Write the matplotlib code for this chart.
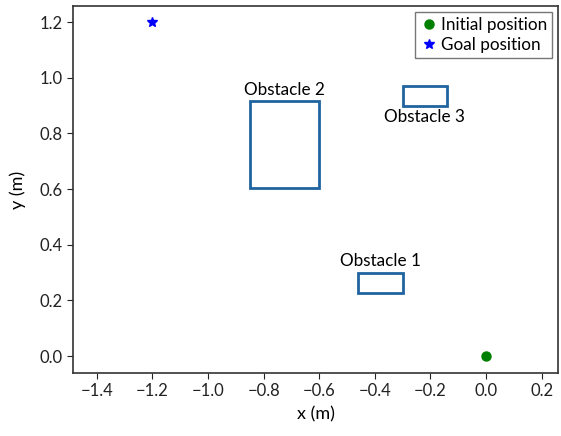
import matplotlib.pyplot as plt
from matplotlib.patches import Rectangle

plt.rcParams["font.family"] = ["Lato", "DejaVu Sans"]

# Start and goal (m)
start_xy = (0.0, 0.0)
goal_xy = (-1.2, 1.2)

# Obstacles: name, lower-left corner, width, height (m)
obstacle_names = ["Obstacle 1", "Obstacle 2", "Obstacle 3"]
obstacle_corners = [(-0.46, 0.225), (-0.85, 0.605), (-0.30, 0.90)]
obstacle_widths = [0.16, 0.25, 0.16]
obstacle_heights = [0.075, 0.31, 0.07]
label_above = [True, True, False]

xticks = [-1.4, -1.2, -1.0, -0.8, -0.6, -0.4, -0.2, 0.0, 0.2]
yticks = [0.0, 0.2, 0.4, 0.6, 0.8, 1.0, 1.2]

fig = plt.figure(figsize=(5.61, 4.36), dpi=100)
ax = fig.add_axes([73 / 561, 63 / 436, 485 / 561, 367 / 436])

edge = "#1f64a0"
for name, (x0, y0), w, h, above in zip(obstacle_names, obstacle_corners,
                                       obstacle_widths, obstacle_heights, label_above):
    ax.add_patch(Rectangle((x0, y0), w, h, fill=False, edgecolor=edge, linewidth=2))
    if above:
        ax.text(x0 + w / 2, y0 + h + 0.012, name, ha="center", va="bottom", fontsize=12.3)
    else:
        ax.text(x0 + w / 2, y0 - 0.012, name, ha="center", va="top", fontsize=12.3)

ax.plot(*start_xy, "o", color="green", markersize=6.5, linestyle="none", label="Initial position")
ax.plot(*goal_xy, "*", color="blue", markersize=7, linestyle="none", label="Goal position")

ax.set_xlim(-1.486, 0.259)
ax.set_ylim(-0.061, 1.258)
ax.set_xticks(xticks)
ax.set_yticks(yticks)
ax.set_xticklabels([f"{t:.1f}".replace("-", "\u2212") for t in xticks])
ax.set_yticklabels([f"{t:.1f}" for t in yticks])
ax.tick_params(labelsize=12, colors="#222222", length=4)
for sp in ax.spines.values():
    sp.set_color("#333333")
    sp.set_linewidth(1.2)

ax.set_xlabel("x (m)", fontsize=13, labelpad=5)
ax.set_ylabel("y (m)", fontsize=13, labelpad=10)

leg = ax.legend(loc="upper right", fontsize=12.3, handletextpad=0.2, handlelength=1.0,
                borderaxespad=0.35, fancybox=False, borderpad=0.3, labelspacing=0.25)
leg.get_frame().set_edgecolor("#555555")

fig.savefig("out.png", dpi=100)
